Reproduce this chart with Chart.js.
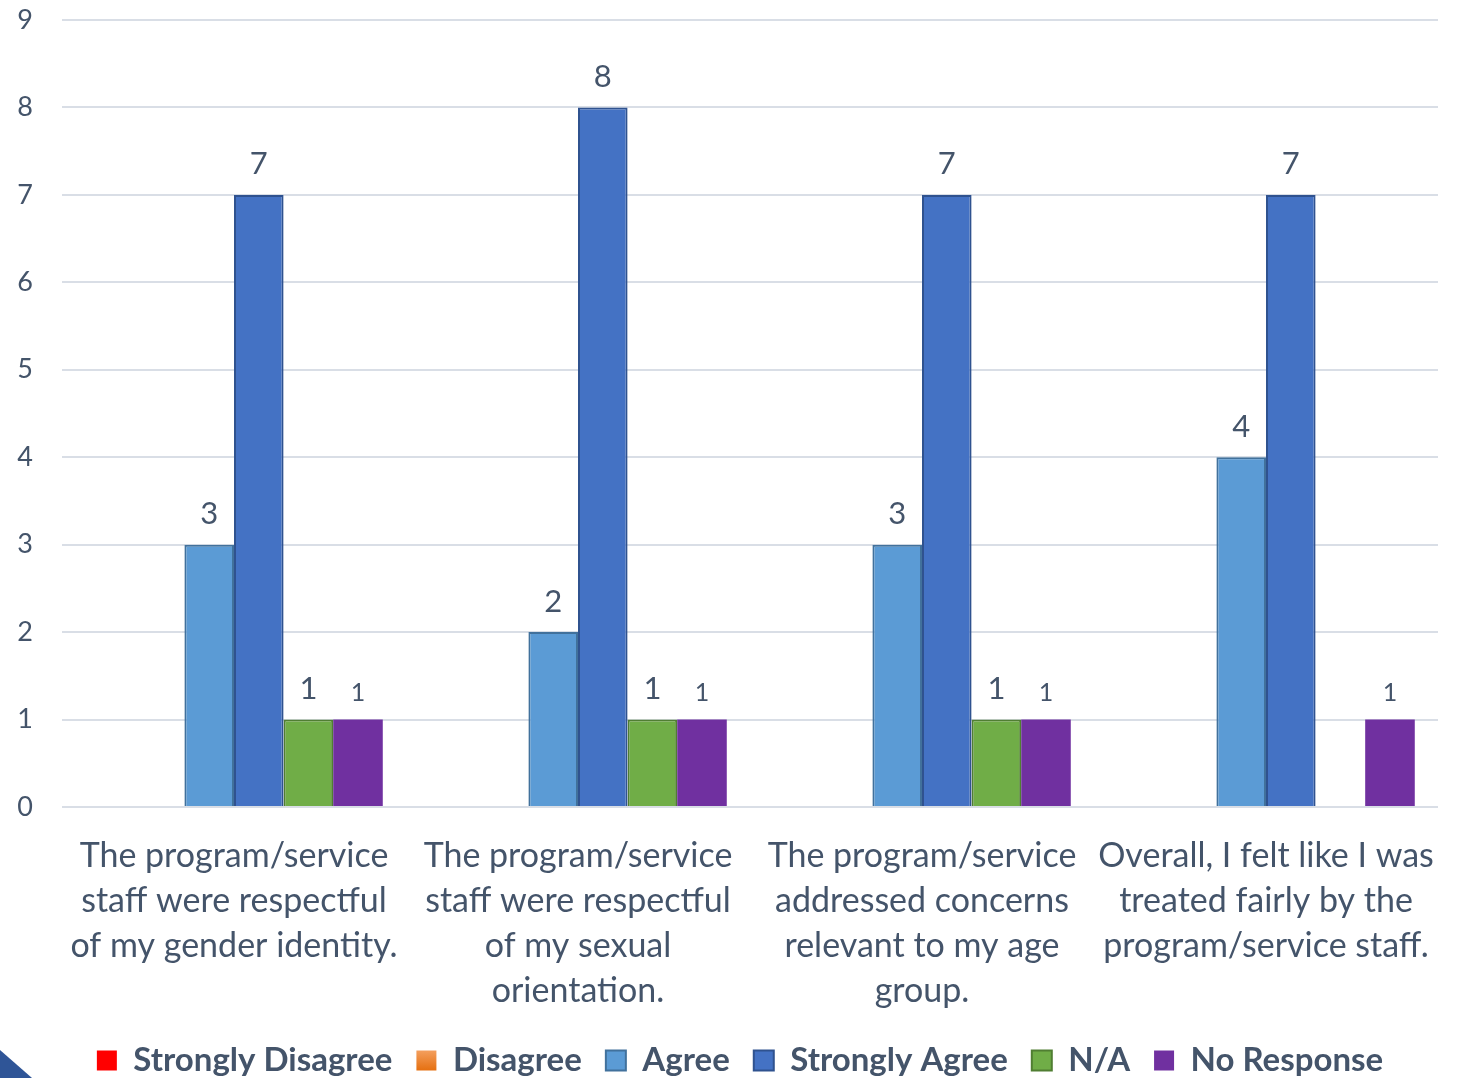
<!DOCTYPE html>
<html>
<head>
<meta charset="utf-8">
<script src="https://cdn.jsdelivr.net/npm/chart.js@4/dist/chart.umd.min.js"></script>
<style>
  html, body { margin: 0; padding: 0; background: #ffffff; }
  #wrap { position: relative; width: 1463px; height: 1078px; overflow: hidden; }
  #tri { position: absolute; left: 0; bottom: 0; width: 0; height: 0;
         border-left: 32px solid #2F5597; border-top: 28px solid transparent; }
</style>
</head>
<body>
<div id="wrap">
  <canvas id="c" width="1463" height="1078"></canvas>
  <div id="tri"></div>
</div>
<script>
const categories = [
  ["The program/service", "staff were respectful", "of my gender identity."],
  ["The program/service", "staff were respectful", "of my sexual", "orientation."],
  ["The program/service", "addressed concerns", "relevant to my age", "group."],
  ["Overall, I felt like I was", "treated fairly by the", "program/service staff."]
];
const seriesNames = ["Strongly Disagree", "Disagree", "Agree", "Strongly Agree", "N/A", "No Response"];
const stronglyDisagree = [null, null, null, null];
const disagree = [null, null, null, null];
const agree = [3, 2, 3, 4];
const stronglyAgree = [7, 8, 7, 7];
const na = [1, 1, 1, null];
const noResponse = [1, 1, 1, 1];
const yTicks = [0, 1, 2, 3, 4, 5, 6, 7, 8, 9];

const textColor = '#44546A';
const fontFamily = 'Lato, "Open Sans", sans-serif';

const ctxG = document.getElementById('c').getContext('2d');
const orangeGrad = ctxG.createLinearGradient(0, 1050, 0, 1072);
orangeGrad.addColorStop(0, '#F4A060');
orangeGrad.addColorStop(1, '#E46C0A');

const valueLabels = {
  id: 'valueLabels',
  afterDatasetsDraw(chart) {
    const ctx = chart.ctx;
    ctx.save();
    ctx.fillStyle = textColor;
    ctx.textAlign = 'center';
    ctx.textBaseline = 'bottom';
    chart.data.datasets.forEach((ds, i) => {
      const meta = chart.getDatasetMeta(i);
      if (meta.hidden) return;
      const size = ds.labelSize || 31;
      ctx.font = size + 'px ' + fontFamily;
      meta.data.forEach((el, j) => {
        const v = ds.data[j];
        if (v === null || v === undefined || v === 0) return;
        ctx.fillText(String(v), el.x, el.y - (ds.labelOffset || 15));
      });
    });
    ctx.restore();
  }
};

const legendShift = {
  id: 'legendShift',
  afterLayout(chart) {
    if (chart.legend) { chart.legend.left += 21; chart.legend.right += 21; }
  }
};

new Chart(ctxG, {
  type: 'bar',
  data: {
    labels: categories,
    datasets: [
      { label: seriesNames[0], data: stronglyDisagree, backgroundColor: '#FF0000', borderColor: '#FF0000', borderWidth: 0 },
      { label: seriesNames[1], data: disagree, backgroundColor: orangeGrad, borderColor: '#ED7D31', borderWidth: 0 },
      { label: seriesNames[2], data: agree, backgroundColor: '#5B9BD5', borderColor: '#41719C', borderWidth: 2 },
      { label: seriesNames[3], data: stronglyAgree, backgroundColor: '#4472C4', borderColor: '#2F528F', borderWidth: 2 },
      { label: seriesNames[4], data: na, backgroundColor: '#70AD47', borderColor: '#507E32', borderWidth: 2 },
      { label: seriesNames[5], data: noResponse, backgroundColor: '#7030A0', borderColor: '#7030A0', borderWidth: 0, labelSize: 25, labelOffset: 14 }
    ]
  },
  options: {
    responsive: false,
    animation: false,
    devicePixelRatio: 1,
    layout: { padding: { top: 20, right: 25, left: 0, bottom: -9 } },
    datasets: { bar: { barPercentage: 1.0, categoryPercentage: 0.865, skipNull: false } },
    scales: {
      y: {
        min: 0, max: 9,
        afterBuildTicks(scale) { scale.ticks = yTicks.map(v => ({ value: v })); },
        afterFit(scale) { scale.width = 62; scale.paddingTop = 0; scale.paddingBottom = 0; },
        grid: { color: '#D9DEE6', lineWidth: 2, drawTicks: false },
        border: { display: false },
        ticks: { color: textColor, font: { family: fontFamily, size: 27 }, padding: 29, align: 'center' }
      },
      x: {
        afterFit(scale) { scale.height = 213; },
        grid: { display: false },
        border: { display: false },
        ticks: { color: textColor, font: { family: fontFamily, size: 34, lineHeight: 1.33 }, padding: 18, maxRotation: 0, autoSkip: false }
      }
    },
    plugins: {
      tooltip: { enabled: false },
      legend: {
        position: 'bottom',
        labels: {
          color: textColor,
          font: { family: fontFamily, size: 33, weight: 'bold' },
          boxWidth: 20, boxHeight: 20, padding: 24,
          useBorderRadius: false
        }
      }
    }
  },
  plugins: [valueLabels, legendShift]
});
</script>
</body>
</html>
